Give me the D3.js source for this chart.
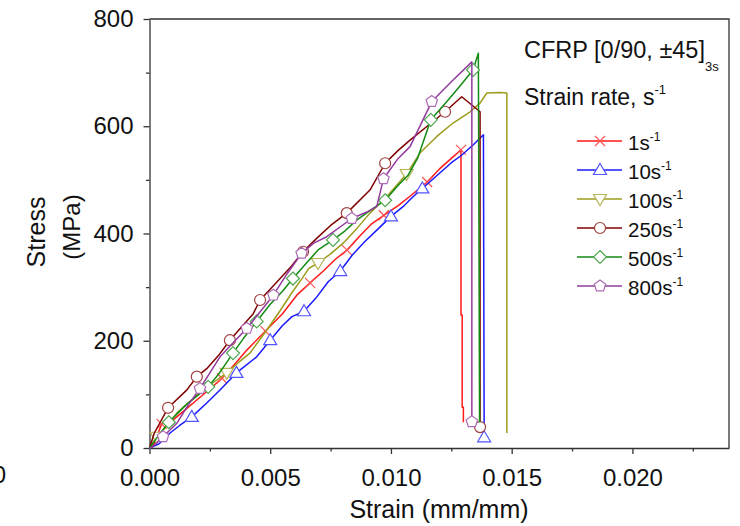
<!DOCTYPE html>
<html>
<head>
<meta charset="utf-8">
<script src="https://cdn.jsdelivr.net/npm/d3@7.9.0/dist/d3.min.js"></script>
<style>
  body { margin: 0; background: #fff; }
  svg { display: block; font-family: "Liberation Sans", Arial, sans-serif; }
</style>
</head>
<body>
<svg id="chart" width="740" height="526"></svg>
<script>
// strain rates (s^-1), in legend order
const rates = ["1", "10", "100", "250", "500", "800"];
const colors = ["#ff1a1a", "#1a1aff", "#9c9c1c", "#800000", "#138a13", "#933a9e"];
const shapes = ["x", "triangle", "triangleDown", "circle", "diamond", "pentagon"];

// [strain, stress MPa, marker?]
const curve1 = [
  [0, 0], [0.0002, 8], [0.0005, 45, 1], [0.00097, 52], [0.0015, 72], [0.00197, 90],
  [0.0025, 110], [0.0030, 130, 1], [0.0035, 155], [0.00404, 183], [0.0048, 218, 1],
  [0.0055, 250], [0.0061, 285], [0.00665, 308, 1], [0.0072, 330], [0.0077, 352],
  [0.00818, 369, 1], [0.0087, 395], [0.0092, 418], [0.0097, 434, 1], [0.0103, 452],
  [0.0108, 470], [0.0115, 496, 1], [0.0120, 520], [0.0125, 540], [0.0129, 556, 1],
  [0.0129, 248], [0.01295, 248], [0.01295, 76], [0.0130, 76], [0.0130, 48]
];
const curve10 = [
  [0, 0], [0.0004, 8], [0.00085, 28], [0.00125, 42], [0.00175, 58, 1], [0.00237, 84],
  [0.00292, 108], [0.0036, 140, 1], [0.00444, 170], [0.0050, 201, 1], [0.0055, 228],
  [0.0059, 245], [0.0064, 255, 1], [0.0069, 280], [0.0074, 310], [0.0079, 330, 1],
  [0.0084, 360], [0.0089, 384], [0.0095, 410], [0.0100, 432, 1], [0.0105, 450],
  [0.0109, 468], [0.0113, 484, 1], [0.0120, 512], [0.0125, 532], [0.0129, 545],
  [0.0134, 565], [0.01383, 584], [0.01386, 20, 1]
];
const curve100 = [
  [0, 0], [0.0003, 21, 1], [0.0007, 40], [0.00113, 65], [0.0017, 88], [0.00222, 108],
  [0.0027, 124], [0.0032, 140, 1], [0.0037, 160], [0.00416, 177], [0.00486, 220],
  [0.0055, 262], [0.0059, 290], [0.0063, 315], [0.0066, 335], [0.00698, 345, 1],
  [0.0075, 362], [0.00802, 382], [0.0086, 410], [0.00913, 438], [0.00983, 469],
  [0.01065, 511, 1], [0.0112, 550], [0.0119, 581], [0.01257, 606], [0.01328, 627],
  [0.01369, 643], [0.01397, 662], [0.01452, 663], [0.0148, 662], [0.0148, 28]
];
const curve250 = [
  [0, 0], [0.0002, 28], [0.00077, 75, 1], [0.00154, 108], [0.00196, 133, 1],
  [0.00237, 148], [0.0029, 175], [0.00333, 201, 1], [0.0038, 225], [0.00429, 250],
  [0.00458, 276, 1], [0.00516, 304], [0.0058, 335], [0.00636, 366, 1], [0.0069, 390],
  [0.0075, 415], [0.00817, 438, 1], [0.00913, 481], [0.00976, 531, 1], [0.0103, 555],
  [0.01079, 574], [0.0115, 600], [0.01224, 627, 1], [0.01293, 655], [0.01369, 627],
  [0.01369, 39, 1]
];
const curve500 = [
  [0, 0], [0.0004, 25], [0.0008, 48, 1], [0.0015, 80], [0.00243, 114, 1], [0.0029, 140],
  [0.00346, 177, 1], [0.0039, 205], [0.00444, 236, 1], [0.0050, 268], [0.0055, 292],
  [0.00594, 316, 1], [0.0065, 345], [0.0070, 370], [0.0076, 388, 1], [0.0081, 405],
  [0.00858, 425], [0.0092, 445], [0.00976, 462, 1], [0.0103, 490], [0.0107, 508],
  [0.0111, 540], [0.01165, 612, 1], [0.0122, 640], [0.01273, 668], [0.0134, 705, 1],
  [0.01362, 736], [0.01367, 48]
];
const curve800 = [
  [0, 0], [0.00012, 2], [0.00056, 21, 1], [0.00113, 46], [0.0016, 80], [0.00209, 111, 1],
  [0.0025, 140], [0.00292, 170], [0.0035, 198], [0.00403, 223, 1], [0.0046, 255],
  [0.00513, 285, 1], [0.0057, 325], [0.0063, 363, 1], [0.0068, 382], [0.00734, 394],
  [0.00838, 428, 1], [0.0090, 440], [0.00941, 450], [0.00969, 502, 1], [0.0103, 540],
  [0.01079, 562], [0.01169, 646, 1], [0.0125, 683], [0.01335, 720], [0.01335, 49, 1]
];
const curves = [curve1, curve10, curve100, curve250, curve500, curve800];

const xTicks = [0, 0.005, 0.010, 0.015, 0.020];
const xMinor = [0.0025, 0.0075, 0.0125, 0.0175, 0.0225];
const yTicks = [0, 200, 400, 600, 800];
const yMinor = [100, 300, 500, 700];

const svg = d3.select("#chart");
const plot = { left: 149.5, right: 729, top: 19, bottom: 448 };

const x = d3.scaleLinear().domain([0, 0.024]).range([plot.left, plot.right]);
const y = d3.scaleLinear().domain([0, 800]).range([plot.bottom, plot.top]);

function markerPath(shape) {
  const p = d3.path();
  if (shape === "x") {
    p.moveTo(-5, -5); p.lineTo(5, 5); p.moveTo(-5, 5); p.lineTo(5, -5);
  } else if (shape === "triangle") {
    p.moveTo(0, -6.5); p.lineTo(6.5, 4.5); p.lineTo(-6.5, 4.5); p.closePath();
  } else if (shape === "triangleDown") {
    p.moveTo(0, 6.5); p.lineTo(6.5, -4.5); p.lineTo(-6.5, -4.5); p.closePath();
  } else if (shape === "circle") {
    p.moveTo(5.5, 0); p.arc(0, 0, 5.5, 0, 2 * Math.PI);
  } else if (shape === "diamond") {
    p.moveTo(0, -6.5); p.lineTo(6.5, 0); p.lineTo(0, 6.5); p.lineTo(-6.5, 0); p.closePath();
  } else {
    for (let k = 0; k < 5; k++) {
      const a = -Math.PI / 2 + k * 2 * Math.PI / 5;
      k ? p.lineTo(6 * Math.cos(a), 6 * Math.sin(a)) : p.moveTo(6 * Math.cos(a), 6 * Math.sin(a));
    }
    p.closePath();
  }
  return p.toString();
}

function markColor(c) {
  return d3.interpolateRgb(c, "#ffffff")(0.25);
}

// axes
const axisColor = "#333";

svg.append("g")
  .attr("transform", `translate(0,${plot.bottom})`)
  .call(d3.axisBottom(x).tickValues(xTicks).tickFormat(d3.format(".3f"))
    .tickSize(6).tickSizeOuter(0).tickPadding(15));
svg.append("g")
  .attr("transform", `translate(0,${plot.bottom})`)
  .call(d3.axisBottom(x).tickValues(xMinor).tickFormat("").tickSize(3.5).tickSizeOuter(0))
  .call((g) => g.select(".domain").remove());

svg.append("g")
  .attr("transform", `translate(${plot.left},0)`)
  .call(d3.axisLeft(y).tickValues(yTicks).tickSize(6).tickSizeOuter(0).tickPadding(10));
svg.append("g")
  .attr("transform", `translate(${plot.left},0)`)
  .call(d3.axisLeft(y).tickValues(yMinor).tickFormat("").tickSize(3.5).tickSizeOuter(0))
  .call((g) => g.select(".domain").remove());

svg.selectAll(".tick line").attr("stroke", axisColor).attr("stroke-width", 1.3);
svg.selectAll(".domain").attr("stroke", axisColor).attr("stroke-width", 1.3);
svg.selectAll(".tick text").attr("font-size", 24).attr("fill", "#111")
  .attr("font-family", '"Liberation Sans", Arial, sans-serif');

// frame top & right
svg.append("path")
  .attr("d", `M${plot.left},${plot.top}H${plot.right}V${plot.bottom}`)
  .attr("fill", "none").attr("stroke", axisColor).attr("stroke-width", 1.3);

// curves
const line = d3.line().x((d) => x(d[0])).y((d) => y(d[1]));

curves.forEach((data, i) => {
  const g = svg.append("g");
  g.append("path")
    .attr("d", line(data))
    .attr("fill", "none")
    .attr("stroke", colors[i])
    .attr("stroke-width", 1.5)
    .attr("stroke-linejoin", "round");
  g.selectAll("path.mk")
    .data(data.filter((d) => d[2]))
    .join("path")
    .attr("class", "mk")
    .attr("transform", (d) => `translate(${x(d[0])},${y(d[1])})`)
    .attr("d", markerPath(shapes[i]))
    .attr("fill", shapes[i] === "x" ? "none" : "#fff")
    .attr("stroke", markColor(colors[i]))
    .attr("stroke-width", 1.2);
});

// legend
const title = svg.append("text")
  .attr("x", 524).attr("y", 58).attr("font-size", 23.5).attr("fill", "#111")
  .text("CFRP [0/90, ±45]");
title.append("tspan").attr("dy", 13).attr("font-size", 13).text("3s");

const sub = svg.append("text")
  .attr("x", 524).attr("y", 105).attr("font-size", 23).attr("fill", "#111")
  .text("Strain rate, s");
sub.append("tspan").attr("dy", -11).attr("font-size", 13).text("-1");

const legend = svg.append("g");
rates.forEach((r, i) => {
  const ly = 141 + i * 29;
  legend.append("line")
    .attr("x1", 577).attr("x2", 622).attr("y1", ly).attr("y2", ly)
    .attr("stroke", colors[i]).attr("stroke-width", 1.5);
  legend.append("path")
    .attr("transform", `translate(600,${ly})`)
    .attr("d", markerPath(shapes[i]))
    .attr("fill", shapes[i] === "x" ? "none" : "#fff")
    .attr("stroke", markColor(colors[i]))
    .attr("stroke-width", 1.2);
  const t = legend.append("text")
    .attr("x", 628).attr("y", ly + 8.5).attr("font-size", 20.5).attr("fill", "#111")
    .text(r + "s");
  t.append("tspan").attr("dy", -9).attr("font-size", 12).text("-1");
});

// axis titles
svg.append("text")
  .attr("x", 439).attr("y", 518).attr("text-anchor", "middle")
  .attr("font-size", 25).attr("fill", "#111")
  .text("Strain (mm/mm)");
svg.append("text")
  .attr("transform", "translate(45,232) rotate(-90)").attr("text-anchor", "middle")
  .attr("font-size", 25).attr("fill", "#111")
  .text("Stress");
svg.append("text")
  .attr("transform", "translate(80,227) rotate(-90)").attr("text-anchor", "middle")
  .attr("font-size", 24).attr("fill", "#111")
  .text("(MPa)");

// clipped tick label from the neighbouring panel
svg.append("text")
  .attr("x", 6).attr("y", 483).attr("text-anchor", "end")
  .attr("font-size", 24).attr("fill", "#111")
  .text("0");
</script>
</body>
</html>
